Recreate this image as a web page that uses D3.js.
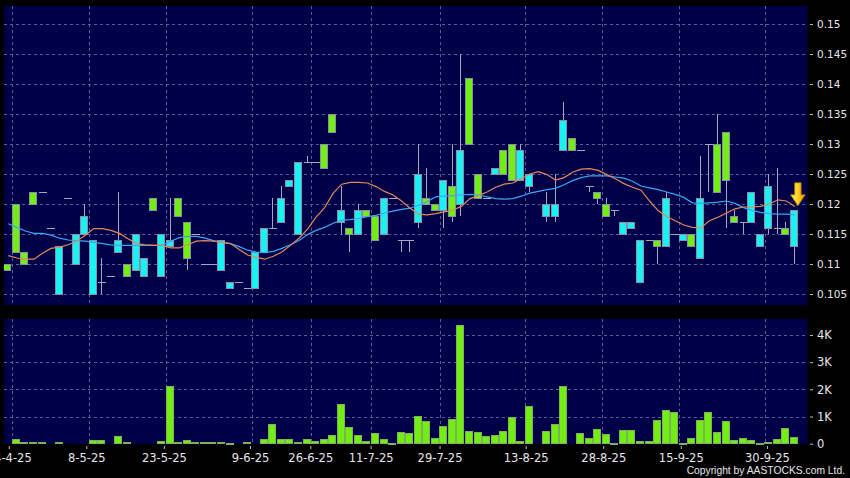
<!DOCTYPE html>
<html><head><meta charset="utf-8">
<script src="https://cdn.jsdelivr.net/npm/d3@7"></script>
<style>html,body{margin:0;padding:0;background:#000;} svg{display:block;}</style>
</head><body>
<svg id="c" width="850" height="478"></svg>
<script>
// ---- data ----
const openP = [
0.110,0.120,0.112,0.122,0.122,0.116,0.105,0.121,0.110,0.115,
0.105,0.107,0.108,0.112,0.110,0.109,0.108,0.121,0.108,0.113,
0.121,0.117,0.115,0.110,0.110,0.109,0.106,0.107,0.106,0.106,
0.112,0.116,0.117,0.123,0.115,0.127,0.127,0.130,0.135,0.117,
0.116,0.115,0.119,0.118,0.115,0.121,0.114,0.114,0.117,0.121,
0.120,0.119,0.123,0.120,0.141,0.125,0.121,0.125,0.129,0.130,
0.124,0.123,null,0.118,0.118,0.129,0.131,0.129,0.123,0.122,
0.120,0.119,0.115,0.116,0.107,0.114,0.114,0.113,0.115,0.114,
0.115,0.111,0.130,0.130,0.132,0.118,0.117,0.117,0.113,0.116,
0.116,0.116,0.113];
const closeP = [
0.109,0.112,0.110,0.120,0.122,0.116,0.113,0.121,0.115,0.118,
0.114,0.107,0.108,0.114,0.108,0.115,0.111,0.119,0.115,0.114,
0.118,0.111,0.115,0.110,0.110,0.114,0.107,0.107,0.106,0.112,
0.116,0.116,0.121,0.124,0.127,0.127,0.127,0.126,0.132,0.119,
0.115,0.119,0.118,0.114,0.121,0.121,0.114,0.114,0.125,0.120,
0.119,0.124,0.118,0.129,0.130,0.121,0.121,0.126,0.125,0.124,
0.129,0.125,null,0.120,0.120,0.134,0.129,0.129,0.123,0.121,
0.118,0.119,0.117,0.117,0.114,0.114,0.113,0.121,0.115,0.115,
0.113,0.121,0.130,0.122,0.124,0.117,0.117,0.122,0.115,0.123,
0.116,0.115,0.119];
const highP = [
0.110,0.120,0.112,0.122,0.122,0.116,0.113,0.121,0.115,0.120,
0.114,0.111,0.108,0.122,0.110,0.115,0.111,0.121,0.115,0.121,
0.121,0.117,0.115,0.110,0.110,0.114,0.107,0.107,0.106,0.112,
0.116,0.121,0.123,0.124,0.127,0.128,0.127,0.130,0.135,0.123,
0.116,0.120,0.119,0.118,0.121,0.121,0.114,0.114,0.130,0.126,
0.120,0.124,0.130,0.145,0.141,0.125,0.121,0.126,0.129,0.130,
0.130,0.125,null,0.122,0.125,0.137,0.131,0.129,0.123,0.122,
0.121,0.119,0.117,0.117,0.114,0.114,0.114,0.122,0.115,0.115,
0.115,0.128,0.130,0.135,0.132,0.119,0.117,0.122,0.115,0.125,
0.126,0.117,0.119];
const lowP = [
0.109,0.112,0.110,0.120,0.122,0.116,0.105,0.121,0.110,0.115,
0.105,0.105,0.108,0.112,0.108,0.109,0.108,0.119,0.108,0.113,
0.118,0.109,0.115,0.110,0.110,0.109,0.106,0.107,0.106,0.106,
0.112,0.116,0.117,0.123,0.115,0.127,0.127,0.126,0.132,0.115,
0.112,0.115,0.118,0.114,0.115,0.121,0.112,0.112,0.116,0.120,
0.119,0.116,0.117,0.118,0.130,0.121,0.121,0.125,0.125,0.124,
0.124,0.122,null,0.117,0.117,0.129,0.129,0.129,0.122,0.120,
0.118,0.118,0.115,0.116,0.107,0.114,0.110,0.113,0.115,0.114,
0.113,0.111,0.122,0.122,0.116,0.117,0.115,0.117,0.113,0.115,
0.115,0.115,0.110];
const volume = [
0,170,75,60,60,0,50,0,0,0,
120,120,0,295,60,0,0,0,110,2110,
60,135,50,50,50,50,35,0,60,0,
160,720,160,160,75,185,110,160,320,1470,
610,320,110,390,170,35,440,380,1020,845,
195,660,895,4350,480,440,270,320,480,990,
110,1400,0,450,720,2110,0,380,195,540,
345,35,515,500,85,85,870,1225,1175,35,
220,870,1150,430,820,135,195,125,10,50,
185,565,245];
const ma10 = [
0.1114,0.1110,0.1108,0.1108,0.1118,0.1126,0.1128,0.1132,0.1138,0.1148,
0.1159,0.1159,0.1156,0.1151,0.1142,0.1134,0.1132,0.1131,0.1131,0.1127,
0.1127,0.1132,0.1138,0.1139,0.1138,0.1136,0.1134,0.1124,0.1115,0.1111,
0.1108,0.1113,0.1120,0.1131,0.1143,0.1158,0.1178,0.1194,0.1218,0.1233,
0.1236,0.1236,0.1235,0.1229,0.1221,0.1215,0.1205,0.1193,0.1183,0.1182,
0.1184,0.1187,0.1190,0.1196,0.1209,0.1214,0.1220,0.1228,0.1233,0.1235,
0.1242,0.1250,0.1254,0.1249,0.1240,0.1244,0.1253,0.1258,0.1259,0.1256,
0.1249,0.1242,0.1234,0.1228,0.1223,0.1205,0.1189,0.1179,0.1172,0.1165,
0.1161,0.1160,0.1172,0.1178,0.1185,0.1192,0.1195,0.1195,0.1196,0.1200,
0.1207,0.1205,0.1196];
const ma20 = [
0.1167,0.1161,0.1155,0.1151,0.1151,0.1148,0.1143,0.1140,0.1139,0.1138,
0.1136,0.1134,0.1132,0.1131,0.1131,0.1131,0.1131,0.1131,0.1131,0.1138,
0.1144,0.1146,0.1146,0.1143,0.1139,0.1136,0.1134,0.1129,0.1123,0.1120,
0.1119,0.1121,0.1126,0.1132,0.1139,0.1149,0.1156,0.1161,0.1168,0.1173,
0.1174,0.1176,0.1179,0.1181,0.1185,0.1188,0.1191,0.1193,0.1198,0.1204,
0.1212,0.1213,0.1214,0.1215,0.1216,0.1215,0.1212,0.1209,0.1208,0.1209,
0.1213,0.1218,0.1221,0.1224,0.1226,0.1232,0.1239,0.1244,0.1247,0.1247,
0.1247,0.1245,0.1243,0.1238,0.1230,0.1227,0.1224,0.1220,0.1216,0.1211,
0.1202,0.1201,0.1202,0.1203,0.1205,0.1201,0.1194,0.1189,0.1186,0.1184,
0.1183,0.1183,0.1182];
const priceTicks = [0.105,0.11,0.115,0.12,0.125,0.13,0.135,0.14,0.145,0.15];
const volTicks = [0,1000,2000,3000,4000];
const volTickLabels = ["0","1K","2K","3K","4K"];
const dateLabels = ["24-4-25","8-5-25","23-5-25","9-6-25","26-6-25","11-7-25","29-7-25","13-8-25","28-8-25","15-9-25","30-9-25"];
const dateIdx = [0,9,18,28,35,42,50,60,69,78,88];

// ---- layout ----
const svg = d3.select("#c");
const P = {l:4, r:807.5, t:6, b:305};
const V = {t:319, b:444};
const n = closeP.length;
const x = d3.scaleLinear().domain([0, n-1]).range([8.3, 794.9]);
const xl = d3.scaleLinear().domain([0, n-1]).range([8.75, 8.75 + 8.616*(n-1)]);
const y = d3.scaleLinear().domain([0.105, 0.15]).range([294, 24]);
const yv = d3.scaleLinear().domain([0, 4000]).range([443.7, 335]);

const NAVY = "#000048", GRID = "#5c5c94", TXT = "#e6e6e6";
const UP = "#19f2f2", DOWN = "#72ee12", WICK = "#a6a6bc", EDGE = "#8a8ea8";

svg.append("rect").attr("width",850).attr("height",478).attr("fill","#000");
svg.append("rect").attr("x",P.l).attr("y",P.t).attr("width",P.r-P.l).attr("height",P.b-P.t).attr("fill",NAVY);
svg.append("rect").attr("x",P.l).attr("y",V.t).attr("width",P.r-P.l).attr("height",V.b-V.t).attr("fill",NAVY);

svg.append("defs").append("clipPath").attr("id","pc").append("rect")
  .attr("x",P.l).attr("y",P.t).attr("width",P.r-P.l).attr("height",P.b-P.t);

// grids
const g = svg.append("g").attr("stroke",GRID).attr("stroke-dasharray","3,3").attr("shape-rendering","crispEdges");
priceTicks.forEach(t => g.append("line").attr("x1",P.l).attr("x2",P.r).attr("y1",Math.round(y(t))+0.5).attr("y2",Math.round(y(t))+0.5));
volTicks.slice(1).forEach(t => g.append("line").attr("x1",P.l).attr("x2",P.r).attr("y1",Math.round(yv(t))+0.5).attr("y2",Math.round(yv(t))+0.5));
dateIdx.forEach(k => {
  const gx = Math.round(x(k+0.45))+0.5;
  g.append("line").attr("x1",gx).attr("x2",gx).attr("y1",P.t).attr("y2",P.b);
  g.append("line").attr("x1",gx).attr("x2",gx).attr("y1",V.t).attr("y2",V.b);
});

// volume bars
const idx = d3.range(n);
svg.append("g").attr("shape-rendering","crispEdges").selectAll("rect")
  .data(idx.filter(i => volume[i] > 0)).join("rect")
  .attr("x", i => Math.round(x(i)) - 4.5)
  .attr("width", 7)
  .attr("y", i => Math.round(yv(volume[i])) + 0.5)
  .attr("height", i => Math.max(0.5, yv(0) - Math.round(yv(volume[i])) - 0.5))
  .attr("fill", DOWN).attr("stroke", "#7fb060").attr("stroke-width",1);

// candles
const cg = svg.append("g").attr("clip-path","url(#pc)").attr("shape-rendering","crispEdges");
const valid = idx.filter(i => closeP[i] !== null);
cg.selectAll("line.w").data(valid.filter(i => highP[i] > lowP[i])).join("line").attr("class","w")
  .attr("x1", i => Math.round(x(i)) - 0.5).attr("x2", i => Math.round(x(i)) - 0.5)
  .attr("y1", i => y(highP[i])).attr("y2", i => y(lowP[i]))
  .attr("stroke", WICK).attr("stroke-width",1);
cg.selectAll("line.d").data(valid.filter(i => openP[i] === closeP[i])).join("line").attr("class","d")
  .attr("x1", i => Math.round(x(i)) - 4.5).attr("x2", i => Math.round(x(i)) + 4)
  .attr("y1", i => Math.round(y(closeP[i]))+0.5).attr("y2", i => Math.round(y(closeP[i]))+0.5)
  .attr("stroke", WICK).attr("stroke-width",1);
cg.selectAll("rect.b").data(valid.filter(i => openP[i] !== closeP[i])).join("rect").attr("class","b")
  .attr("x", i => Math.round(x(i)) - 4.5)
  .attr("width", 7)
  .attr("y", i => Math.round(y(Math.max(openP[i],closeP[i]))) + 0.5)
  .attr("height", i => Math.round(y(Math.min(openP[i],closeP[i]))) - Math.round(y(Math.max(openP[i],closeP[i]))))
  .attr("fill", i => closeP[i] > openP[i] ? UP : DOWN)
  .attr("stroke", EDGE).attr("stroke-width",1);

// moving averages
const lg = svg.append("g").attr("clip-path","url(#pc)");
const line = arr => d3.line().x((d,i) => x(i)).y(d => y(d)).curve(d3.curveLinear)(arr);
lg.append("path").attr("d", line(ma20)).attr("fill","none").attr("stroke","#3aa6f2").attr("stroke-width",1.2);
lg.append("path").attr("d", line(ma10)).attr("fill","none").attr("stroke","#e0885a").attr("stroke-width",1.2);

// arrow marker at last bar
const defs = svg.select("defs");
const grad = defs.append("linearGradient").attr("id","ag").attr("x1","0").attr("x2","1").attr("y1","0").attr("y2","0");
grad.append("stop").attr("offset","0").attr("stop-color","#fff08a");
grad.append("stop").attr("offset","0.5").attr("stop-color","#ffd21e");
grad.append("stop").attr("offset","1").attr("stop-color","#d08a00");
const ax = x(n-1) + 3, ay = y(0.1197);
svg.append("path")
  .attr("d", `M${ax-3.2},${ay-23} L${ax+3.2},${ay-23} L${ax+3.2},${ay-11} L${ax+7.3},${ay-11} L${ax},${ay} L${ax-7.3},${ay-11} L${ax-3.2},${ay-11} Z`)
  .attr("fill","url(#ag)").attr("stroke","#b87a00").attr("stroke-width",0.8);

// axes
const pa = svg.append("g").attr("transform","translate(810,0)")
  .call(d3.axisRight(y).tickValues(priceTicks).tickSize(3).tickPadding(4).tickFormat(d => String(+d.toFixed(3))));
const va = svg.append("g").attr("transform","translate(810,0)")
  .call(d3.axisRight(yv).tickValues(volTicks).tickSize(3).tickPadding(4).tickFormat((d,i) => volTickLabels[i]));
const xa = svg.append("g").attr("transform","translate(0,446)")
  .call(d3.axisBottom(xl).tickValues(dateIdx).tickSize(3).tickPadding(5).tickFormat((d,i) => dateLabels[i]));
[pa,va,xa].forEach(a => {
  a.select(".domain").remove();
  a.selectAll("line").attr("stroke", "#bbbbbb");
  a.selectAll("text").attr("fill", TXT).attr("font-family","DejaVu Sans, sans-serif");
});
pa.selectAll("text").attr("font-size", "10.5px");
va.selectAll("text").attr("font-size", "11.5px");
xa.selectAll("text").attr("font-size", "11.5px");

svg.append("text").attr("x", 845).attr("y", 474).attr("text-anchor","end")
  .attr("font-family","Liberation Sans, Arial, sans-serif").attr("font-size","10.3px").attr("fill",TXT)
  .text("Copyright by AASTOCKS.com Ltd.");
</script>
</body></html>
